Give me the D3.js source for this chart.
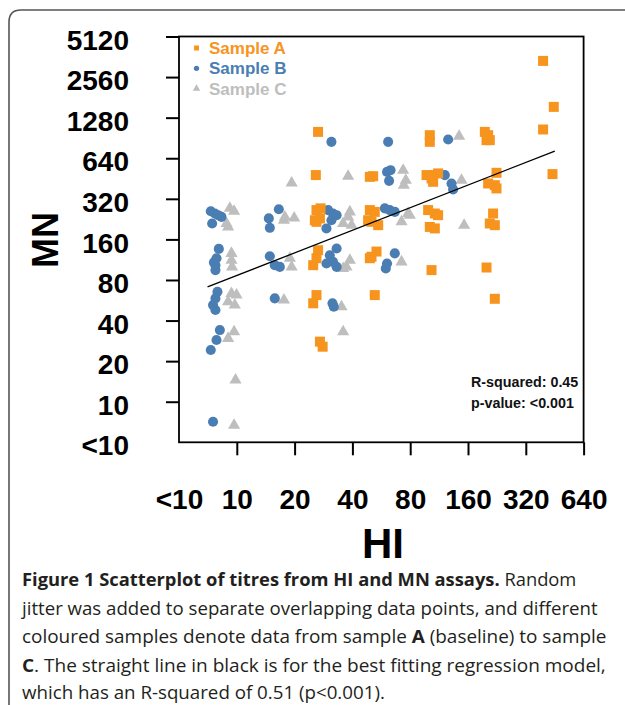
<!DOCTYPE html>
<html>
<head>
<meta charset="utf-8">
<script src="https://cdn.jsdelivr.net/npm/d3@7"></script>
<style>
body { margin: 0; background: #fff; }
svg { display: block; }
</style>
</head>
<body>
<svg id="fig" width="625" height="705"></svg>
<script>
// titres (jittered), [HI, MN]
var sampleA = [
  [26.5,1004],[25.8,480],[49.3,466],[51.3,471],
  [26.0,264],[27.3,272],[25.5,222],[27.1,229],[26.0,216],
  [49.3,264],[52.3,256],[50.3,216],[54.5,204],[48.3,222],
  [26.5,133],[26.0,116],[25.0,103],
  [53.4,130],[49.3,116],[50.3,119],
  [103.3,94.7],
  [26.0,61.8],[25.0,53.7],[52.3,61.8],
  [27.1,27.9],[28.0,25.6],
  [101.2,949],[101.2,847],
  [195.8,1004],[203.7,949],[199.8,872],[207.8,872],
  [393.8,3375],[447.6,1539],[393.8,1046],[440.8,488],
  [97.3,480],[105.3,480],[111.8,494],[105.3,428],[103.3,453],
  [225.2,499],[203.7,416],[220.7,404],[225.2,382],
  [99.2,264],[107.5,249],[111.8,242],[101.2,198],[107.5,193],
  [216.2,249],[207.8,210],[220.7,204],
  [199.8,99],[220.7,58]
];
var sampleB = [
  [7.32,259],[7.68,249],[7.99,242],[7.44,210],[8.32,235],
  [8.06,136],[7.84,116],[7.6,108],[7.74,103],[7.74,94.7],
  [7.93,65.4],[7.74,58.4],[7.52,52.1],[7.74,47.9],
  [8.16,34.0],[7.84,28.7],[7.32,24.2],[7.52,7.1],
  [16.55,268],[14.68,229],[14.86,195],[14.86,120],[15.77,103],[16.75,100],[15.77,58.4],
  [31.1,847],[29.9,264],[31.7,249],[33.1,242],[29.3,193],[31.1,222],
  [33.1,137],[30.5,122],[29.3,106],[33.1,100],[31.7,109],
  [31.5,53.7],[32.0,50.6],
  [61.4,847],[60.6,507],[63.2,522],[62.1,435],
  [59.0,272],[62.6,264],[66.5,256],
  [66.5,126],[60.6,106],[59.7,97.5],
  [126.1,882],[121.2,480],[131.3,416],[133.8,376]
];
var sampleC = [
  [9.68,259],[9.01,198],[9.2,272],[8.84,210],
  [9.38,126],[9.38,112],[9.45,100],
  [9.38,63.6],[9.97,61.8],[9.01,55.1],[9.76,52.1],
  [9.68,33.0],[9.01,29.5],
  [9.85,14.5],[9.68,6.7],
  [17.8,235],[19.9,231],[17.6,222],
  [18.9,116],[19.3,100],
  [17.6,56.8],[19.3,420],
  [38.0,471],
  [38.8,256],[38.0,235],[35.8,210],[39.6,204],
  [38.8,112],[37.3,100],[35.8,97.5],
  [35.1,50.6],[35.8,33.0],
  [73.5,522],[75.9,440],[74.1,404],
  [78.0,249],[72.1,216],[79.6,242],
  [72.1,109],
  [143.8,933],[148.0,440],[152.7,204]
];

var xTicks = [5, 10, 20, 40, 80, 160, 320, 640];
var yTicks = [5, 10, 20, 40, 80, 160, 320, 640, 1280, 2560, 5120];
var lowLabel = "<10";   // titres below 10 are plotted at 5

var seriesNames = ["Sample A", "Sample B", "Sample C"];
var seriesColors = ["#F7941D", "#4A7EB3", "#BEBEBE"];

// regression line end points (HI, MN)
var fitHI = [7.04, 453];
var fitMN = [71, 723];
var statsText = ["R-squared: 0.45", "p-value: <0.001"];

var captionLines = [
  [["Figure 1 Scatterplot of titres from HI and MN assays.", true], [" Random", false]],
  [["jitter was added to separate overlapping data points, and different", false]],
  [["coloured samples denote data from sample ", false], ["A", true], [" (baseline) to sample", false]],
  [["C", true], [". The straight line in black is for the best fitting regression model,", false]],
  [["which has an R-squared of 0.51 (p<0.001).", false]]
];

var svg = d3.select("#fig");
var chartFont = "'Liberation Sans', Arial, sans-serif";

// outer figure frame
svg.append("path")
  .attr("d", "M9,712 L9,22 Q9,10 21,10 L632,10")
  .attr("fill", "none")
  .style("stroke", "#555")
  .style("stroke-width", 1.6);

var x = d3.scaleLog().base(2).domain([5, 640]).range([179, 583.6]);
var y = d3.scaleLog().base(2).domain([5, 5120]).range([442.3, 36.5]);

function fmt(d) { return d === 5 ? lowLabel : String(d); }

// y axis
var gy = svg.append("g")
  .attr("transform", "translate(179,0)")
  .call(d3.axisLeft(y).tickValues(yTicks).tickFormat(fmt).tickSize(13).tickPadding(37));
// x axis
var gx = svg.append("g")
  .attr("transform", "translate(0,442.3)")
  .call(d3.axisBottom(x).tickValues(xTicks).tickFormat(fmt).tickSize(13).tickPadding(34));

[gy, gx].forEach(function(g) {
  g.select(".domain").remove();
  g.selectAll(".tick line").style("stroke", "#000").style("stroke-width", 2);
  g.selectAll(".tick").filter(function(d) { return d === 5; }).select("line").remove();
  g.selectAll(".tick text")
    .style("font-family", chartFont)
    .style("font-weight", "bold")
    .style("font-size", "28px")
    .style("fill", "#000");
});
gy.selectAll(".tick text").attr("dy", "0.45em");

// plot box
svg.append("rect")
  .attr("x", x.range()[0]).attr("y", y.range()[1])
  .attr("width", x.range()[1] - x.range()[0])
  .attr("height", y.range()[0] - y.range()[1])
  .attr("fill", "none")
  .style("stroke", "#000")
  .style("stroke-width", 1.8);

// axis titles
svg.append("text")
  .attr("transform", "translate(58,240) rotate(-90)")
  .attr("text-anchor", "middle")
  .style("font-family", chartFont).style("font-weight", "bold").style("font-size", "36px")
  .text("MN");
svg.append("text")
  .attr("x", 383).attr("y", 558)
  .attr("text-anchor", "middle")
  .style("font-family", chartFont).style("font-weight", "bold").style("font-size", "42px")
  .text("HI");

// points: C first, then B, then A on top
var shapes = [d3.symbolSquare, d3.symbolCircle, d3.symbolTriangle];
var sizes = [100, 80, 64];
var allSamples = [sampleA, sampleB, sampleC];
[2, 1, 0].forEach(function(i) {
  svg.append("g").selectAll("path")
    .data(allSamples[i])
    .enter().append("path")
    .attr("d", d3.symbol().type(shapes[i]).size(sizes[i]))
    .attr("transform", function(d) { return "translate(" + x(d[0]) + "," + y(d[1]) + ")"; })
    .attr("fill", seriesColors[i]);
});

// regression line
svg.append("line")
  .attr("x1", x(fitHI[0])).attr("y1", y(fitMN[0]))
  .attr("x2", x(fitHI[1])).attr("y2", y(fitMN[1]))
  .style("stroke", "#000")
  .style("stroke-width", 1.3);

// legend
var legend = svg.append("g");
seriesNames.forEach(function(name, i) {
  var ly = 48 + i * 20.3;
  legend.append("path")
    .attr("d", d3.symbol().type(shapes[i]).size([25, 22, 24][i]))
    .attr("transform", "translate(196.5," + ly + ")")
    .attr("fill", seriesColors[i]);
  legend.append("text")
    .attr("x", 209).attr("y", ly + 6)
    .style("font-family", chartFont).style("font-weight", "bold").style("font-size", "17px")
    .attr("fill", seriesColors[i])
    .text(name);
});

// fit statistics
statsText.forEach(function(t, i) {
  svg.append("text")
    .attr("x", 471).attr("y", 387 + i * 21)
    .style("font-family", chartFont).style("font-weight", "bold").style("font-size", "14.3px")
    .attr("fill", "#111")
    .text(t);
});

// caption
var capWidths = [555, 576, 585, 584, null];
var capBase = [586, 615, 643, 672, 699];
var scales = [];
var capTexts = captionLines.map(function(parts, i) {
  var t = svg.append("text")
    .style("font-family", "'Open Sans', sans-serif")
    .style("font-size", "17.5px")
    .attr("fill", "#231f20");
  parts.forEach(function(p) {
    t.append("tspan").style("font-weight", p[1] ? "bold" : "normal").text(p[0]);
  });
  var w = t.node().getComputedTextLength();
  var k = capWidths[i] ? capWidths[i] / w : null;
  if (k) scales.push(k);
  return [t, k];
});
var meanK = d3.mean(scales);
capTexts.forEach(function(c, i) {
  var k = c[1] || meanK;
  c[0].attr("transform", "translate(22," + capBase[i] + ") scale(" + k + ",1)");
});
</script>
</body>
</html>
